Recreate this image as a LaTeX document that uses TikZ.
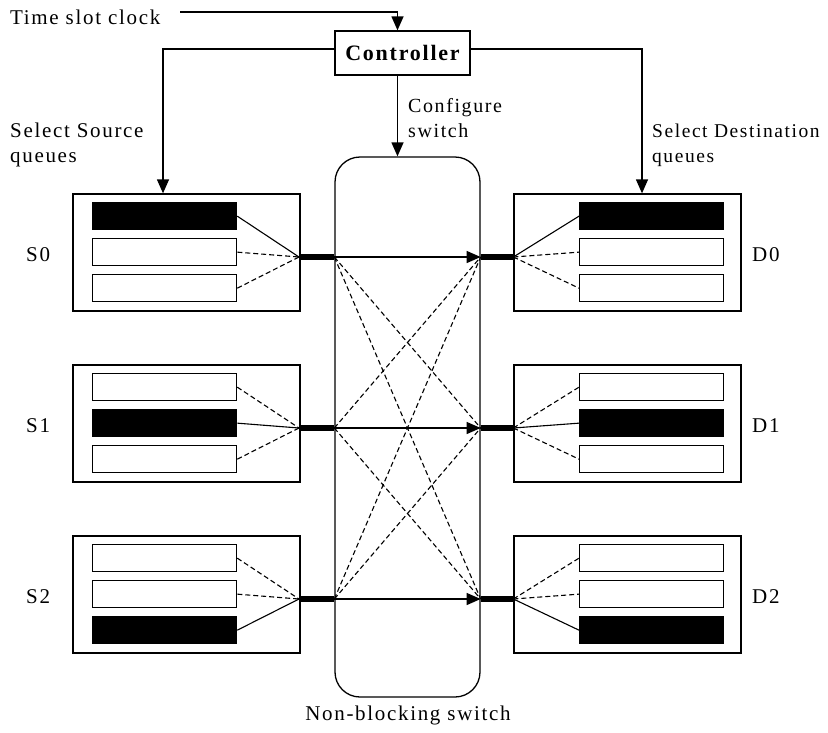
\documentclass[tikz,border=0pt]{standalone}
\usepackage{fontspec}
\setmainfont{Liberation Serif}[LetterSpace=8]
\usetikzlibrary{arrows.meta}

\begin{document}
\begin{tikzpicture}[x=1pt,y=-1pt,
  lbl/.style={font=\fontsize{21}{25}\selectfont, inner sep=0pt, align=left},
  tip/.style={-{Triangle[length=14pt,width=12pt]}},
  conn/.style={line width=1.3pt, tip},
  frame/.style={draw, line width=1.3pt, inner sep=0pt},
  qbox/.style={frame, minimum width=227pt, minimum height=117pt},
  queue/.style={frame, minimum width=144pt, minimum height=27pt, anchor=north west},
  full/.style={queue, fill=black},
  solidlink/.style={line width=1.1pt},
  link/.style={line width=1.1pt, dash pattern=on 5pt off 3pt},
  port/.style={line width=6pt},
]
\useasboundingbox (0,0) rectangle (828,732);

% controller and the clock that drives it
\node[frame, minimum width=135pt, minimum height=44pt,
      font=\fontsize{22}{25}\selectfont\bfseries] (ctrl) at (402.5,53) {Controller};
\node[lbl, anchor=west] (clk) at (10,17) {Time slot clock};
\coordinate (clkend) at (180,12);
\draw[conn] (clkend) -| ([xshift=-5pt]ctrl.north);

% non-blocking switch fabric
\node[frame, rounded corners=25pt, minimum width=145pt, minimum height=540pt] (sw) at (407.5,427) {};
\node[lbl, anchor=north] (swlbl) at (408,706) {Non-blocking switch};
\draw[conn] ([xshift=-5pt]ctrl.south) -- ([xshift=-5pt]ctrl.south |- sw.north);
\node[lbl, anchor=west, font=\fontsize{20}{25}\selectfont] (cfg) at (408,118) {Configure\\switch};

% source (S) and destination (D) queue groups
\foreach \i/\yc in {0/257,1/428,2/599} {
  \node[qbox] (S\i) at (186.5,\yc-4.5) {};
  \node[qbox] (D\i) at (627.5,\yc-4.5) {};
  \node[lbl, anchor=west] (lS\i) at (26,\yc-2) {S\i};
  \node[lbl, anchor=west] (lD\i) at (752,\yc-2) {D\i};
  \coordinate (sp\i) at (299,\yc);
  \coordinate (sin\i) at (sw.west |- sp\i);
  \coordinate (din\i) at (sw.east |- sp\i);
  \coordinate (dp\i) at (D\i.west |- sp\i);
  \foreach \r/\dy in {0/-55,1/-19,2/17} {
    \ifnum\r=\i \def\qs{full}\def\ls{solidlink}\else\def\qs{queue}\def\ls{link}\fi
    \node[\qs] (S\i q\r) at (92,\yc+\dy) {};
    \node[\qs] (D\i q\r) at (579,\yc+\dy) {};
    \draw[\ls] (S\i q\r.east) -- (sp\i);
    \draw[\ls] (dp\i) -- (D\i q\r.west);
  }
  \draw[port] (sp\i) -- (sin\i);
  \draw[port] (din\i) -- (dp\i);
  \draw[conn] (sin\i) -- (din\i);
}

% possible crossings through the fabric
\foreach \i in {0,1,2} {
  \foreach \j in {0,1,2} {
    \ifnum\i=\j\else\draw[link] (sin\i) -- (din\j);\fi
  }
}

% selection signals from the controller
\draw[conn] ([yshift=4pt]ctrl.west) -| ([xshift=-23.5pt]S0.north);
\draw[conn] ([yshift=4pt]ctrl.east) -| ([xshift=14.5pt]D0.north);
\node[lbl, anchor=west] (ssel) at (10,145) {Select Source\\queues};
\node[lbl, anchor=west, font=\fontsize{19.5}{25}\selectfont] (dsel) at (652,145) {Select Destination\\queues};
\end{tikzpicture}
\end{document}
